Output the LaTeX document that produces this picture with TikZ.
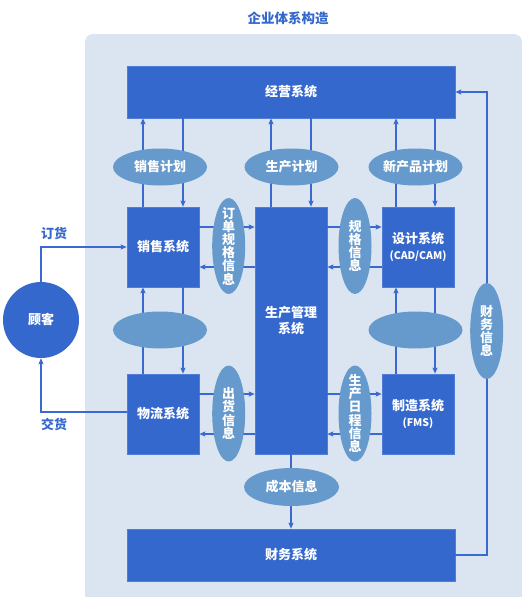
\documentclass[tikz,border=0pt]{standalone}
\usepackage{fontspec}
\setmainfont{Noto Sans CJK SC}
\usetikzlibrary{
    shapes.geometric,
    arrows.meta,
    positioning,
    backgrounds,
    calc
}
\definecolor{azulCaja}{RGB}{53, 104, 204}
\definecolor{azulBorde}{RGB}{80, 125, 215}
\definecolor{azulElipse}{RGB}{102, 153, 204}
\definecolor{azulFondo}{RGB}{218, 229, 241}
\definecolor{azulLinea}{RGB}{58, 106, 207}
\newcommand{\textoPequeno}{\fontsize{10.5}{12}\selectfont}
\tikzset{
    bloqueSistema/.style={
        rectangle, draw=azulBorde, line width=0.6pt, fill=azulCaja,
        minimum width=72pt, minimum height=80pt, inner sep=0pt,
        align=center, font=\fontsize{13}{16.5}\selectfont\bfseries, text=white
    },
    bloqueAncho/.style={
        bloqueSistema, minimum width=328pt, minimum height=52pt
    },
    bloqueCentral/.style={
        bloqueSistema, minimum height=247pt, text depth=21pt
    },
    elipseInfo/.style={
        ellipse, fill=azulElipse, minimum width=94pt, minimum height=37pt,
        inner sep=0pt, font=\fontsize{13}{15}\selectfont\bfseries, text=white
    },
    elipseVertical/.style={
        ellipse, fill=azulElipse, minimum width=33pt, minimum height=96pt,
        inner sep=-6pt, align=center,
        font=\fontsize{13}{13.2}\selectfont\bfseries, text=white
    },
    circuloCliente/.style={
        circle, fill=azulCaja, minimum size=76pt, inner sep=0pt,
        font=\fontsize{13}{15}\selectfont\bfseries, text=white
    },
    flecha/.style={
        -{Stealth[length=6pt,width=5pt,inset=1pt]},
        line width=1.4pt, color=azulLinea
    },
    etiquetaFlujo/.style={
        font=\fontsize{13}{15}\selectfont\bfseries, text=azulCaja, inner sep=0pt
    },
}

\begin{document}
\begin{tikzpicture}[x=1pt, y=-1pt]

    \useasboundingbox (0, 0) rectangle (522, 597);

    % ----------------------------------------------------------
    % FONDO + TITULO
    % ----------------------------------------------------------
    \fill[azulFondo, rounded corners=8pt] (85, 34) rectangle (522, 620);
    \node[etiquetaFlujo, font=\fontsize{13.5}{15}\selectfont\bfseries]
        at (288, 18) (titulo) {企业体系构造};

    % ----------------------------------------------------------
    % SISTEMAS
    % ----------------------------------------------------------
    \node[bloqueAncho]    at (291,  92)   (jingying)  {经营系统};
    \node[bloqueSistema]  at (163, 247)   (xiaoshou)  {销售系统};
    \node[bloqueCentral]  at (291, 330.5) (shengchan) {生产管理\\系统};
    \node[bloqueSistema]  at (418, 247)   (sheji)     {设计系统\\{\textoPequeno (CAD/CAM)}};
    \node[bloqueSistema]  at (163, 414)   (wuliu)     {物流系统};
    \node[bloqueSistema]  at (418, 414)   (zhizao)    {制造系统\\{\textoPequeno (FMS)}};
    \node[bloqueAncho]    at (291, 555)   (caiwu)     {财务系统};
    \node[circuloCliente] at ( 41, 320)   (guke)      {顾客};

    % ----------------------------------------------------------
    % FLECHAS VERTICALES (arriba)
    % ----------------------------------------------------------
    \draw[flecha] ([xshift=-20pt]xiaoshou.north) -- ([xshift=-20pt]xiaoshou.north |- jingying.south);
    \draw[flecha] ([xshift=20pt]xiaoshou.north |- jingying.south) -- ([xshift=20pt]xiaoshou.north);
    \draw[flecha] ([xshift=-20pt]shengchan.north) -- ([xshift=-20pt]shengchan.north |- jingying.south);
    \draw[flecha] ([xshift=20pt]shengchan.north |- jingying.south) -- ([xshift=20pt]shengchan.north);
    \draw[flecha] ([xshift=-22pt]sheji.north) -- ([xshift=-22pt]sheji.north |- jingying.south);
    \draw[flecha] ([xshift=17pt]sheji.north |- jingying.south) -- ([xshift=17pt]sheji.north);

    % ----------------------------------------------------------
    % FLECHAS VERTICALES (centro)
    % ----------------------------------------------------------
    \draw[flecha] ([xshift=-20pt]wuliu.north) -- ([xshift=-20pt]xiaoshou.south);
    \draw[flecha] ([xshift=20pt]xiaoshou.south) -- ([xshift=20pt]wuliu.north);
    \draw[flecha] ([xshift=-22pt]zhizao.north) -- ([xshift=-22pt]sheji.south);
    \draw[flecha] ([xshift=17pt]sheji.south) -- ([xshift=17pt]zhizao.north);

    % ----------------------------------------------------------
    % FLECHAS HORIZONTALES
    % ----------------------------------------------------------
    \draw[flecha] ([yshift=20pt]xiaoshou.east) -- ([yshift=20pt]xiaoshou.east -| shengchan.west);
    \draw[flecha] ([yshift=-20pt]xiaoshou.east -| shengchan.west) -- ([yshift=-20pt]xiaoshou.east);
    \draw[flecha] ([yshift=20pt]sheji.west -| shengchan.east) -- ([yshift=20pt]sheji.west);
    \draw[flecha] ([yshift=-20pt]sheji.west) -- ([yshift=-20pt]sheji.west -| shengchan.east);

    \draw[flecha] ([yshift=20pt]wuliu.east) -- ([yshift=20pt]wuliu.east -| shengchan.west);
    \draw[flecha] ([yshift=-20pt]wuliu.east -| shengchan.west) -- ([yshift=-20pt]wuliu.east);
    \draw[flecha] ([yshift=20pt]zhizao.west -| shengchan.east) -- ([yshift=20pt]zhizao.west);
    \draw[flecha] ([yshift=-20pt]zhizao.west) -- ([yshift=-20pt]zhizao.west -| shengchan.east);

    % ----------------------------------------------------------
    % CLIENTE, COSTE Y RETORNO
    % ----------------------------------------------------------
    \draw[flecha] (guke.north) |- (xiaoshou.west);
    \draw[flecha] ([yshift=2pt]wuliu.west) -| (guke.south);
    \draw[flecha] (shengchan.south) -- (caiwu.north);

    \coordinate (retorno) at (487, 0);
    \draw[flecha] (caiwu.east) -| (retorno |- jingying.east) -- (jingying.east);

    % ----------------------------------------------------------
    % ELIPSES DE INFORMACION
    % ----------------------------------------------------------
    \node[elipseInfo] at (160,   167) (planXiaoshou)   {销售计划};
    \node[elipseInfo] at (291.5, 167) (planShengchan)  {生产计划};
    \node[elipseInfo] at (415.5, 167) (planXinchanpin) {新产品计划};
    \node[elipseInfo] at (160,   330) (vacioIzq)       {};
    \node[elipseInfo] at (415.5, 330) (vacioDer)       {};
    \node[elipseInfo, minimum width=95pt, minimum height=38pt]
        at (291.5, 487) (chengben) {成本信息};

    \node[elipseVertical] at (228.7, 246)   (dingdan)   {订\\单\\规\\格\\信\\息};
    \node[elipseVertical] at (355,   246)   (guige)     {规\\格\\信\\息};
    \node[elipseVertical] at (228.7, 413.5) (chuhuo)    {出\\货\\信\\息};
    \node[elipseVertical] at (355,   413.5) (richeng)   {生\\产\\日\\程\\信\\息};
    \node[elipseVertical] at (486.7, 331)   (caiwuInfo) {财\\务\\信\\息};

    % ----------------------------------------------------------
    % ETIQUETAS
    % ----------------------------------------------------------
    \node[etiquetaFlujo] at (54, 233) (dinghuo) {订货};
    \node[etiquetaFlujo] at (54, 424) (jiaohuo) {交货};

\end{tikzpicture}
\end{document}
